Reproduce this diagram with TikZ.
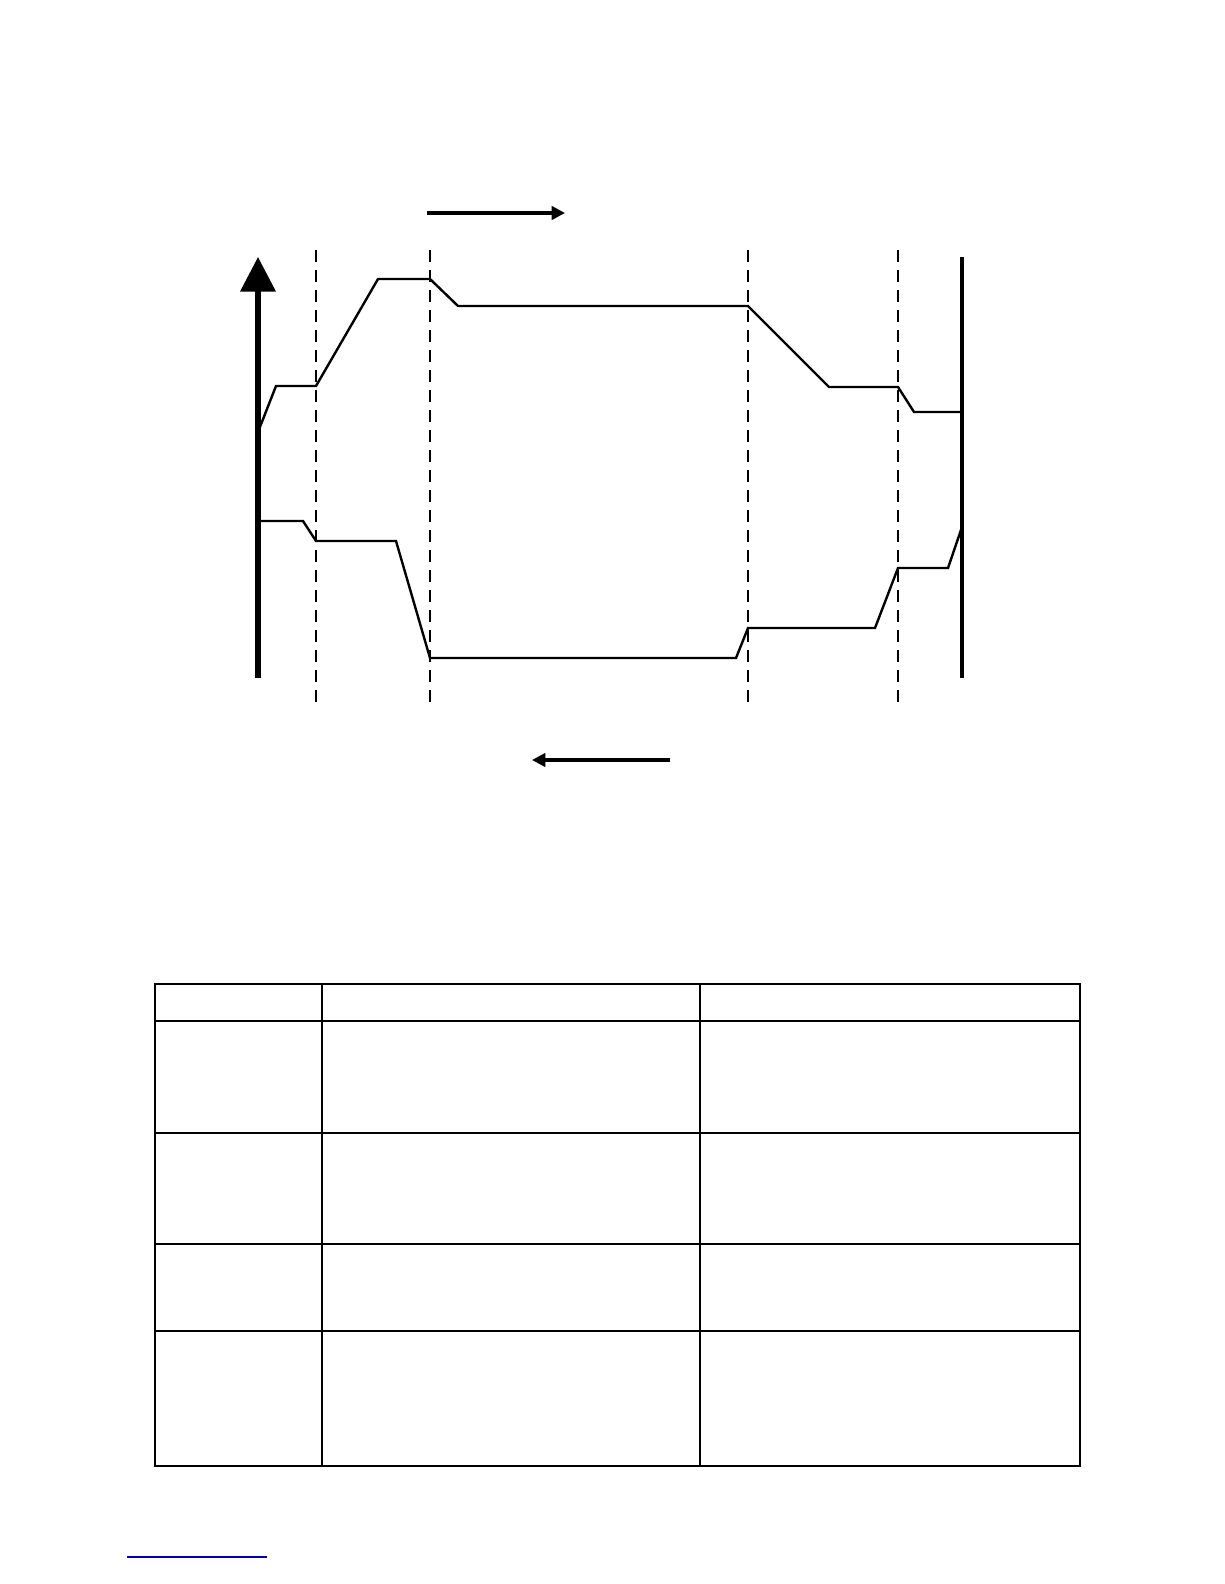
\documentclass[tikz,border=0pt]{standalone}
\usetikzlibrary{arrows.meta}
\begin{document}
\begin{tikzpicture}[x=0.75pt,y=-0.75pt,
  curve/.style={line width=1.8pt,line join=miter},
  dash/.style={},
  dline/.style={line width=1.4pt,dash pattern=on 9pt off 6pt},
  tab/.style={line width=1pt}]
\useasboundingbox (0,0) rectangle (1224,1584);
% axes
\coordinate (a0) at (258,678); \coordinate (a1) at (258,257);
\draw[line width=4pt,-{Triangle[length=26pt,width=26pt]}] (a0) -- (a1);
\coordinate (r0) at (962,678); \coordinate (r1) at (962,257);
\draw[line width=3pt] (r0) -- (r1);
% dashed
\foreach \x in {316,430,748,898}{\draw[dline] (\x,250) -- (\x,708);}
% direction arrows
\coordinate (t0) at (427,213); \coordinate (t1) at (565,213);
\draw[line width=2.4pt,-{Triangle[length=10pt,width=10pt]}] (t0) -- (t1);
\coordinate (b0) at (670,760); \coordinate (b1) at (532,760);
\draw[line width=2.4pt,-{Triangle[length=10pt,width=10pt]}] (b0) -- (b1);
% curves
\draw[curve] (258,432)--(276,386)--(316,386)--(378,279)--(430,279)--(458,306)--(748,306)--(829,387)--(898,387)--(914,412)--(962,412);
\draw[curve] (258,521)--(303,521)--(316,541)--(396,541)--(430,658)--(736,658)--(748,628)--(875,628)--(898,568)--(948,568)--(962,527);
% table
\draw[tab] (155,984) rectangle (1080,1466);
\draw[tab] (322,984)--(322,1466);
\draw[tab] (700,984)--(700,1466);
\draw[line width=1.8pt] (155,1021)--(1080,1021);
\foreach \y in {1133,1244,1331}{\draw[tab] (155,\y)--(1080,\y);}
\draw[blue!70!black,line width=1pt] (127,1557)--(267,1557);
\end{tikzpicture}
\end{document}
